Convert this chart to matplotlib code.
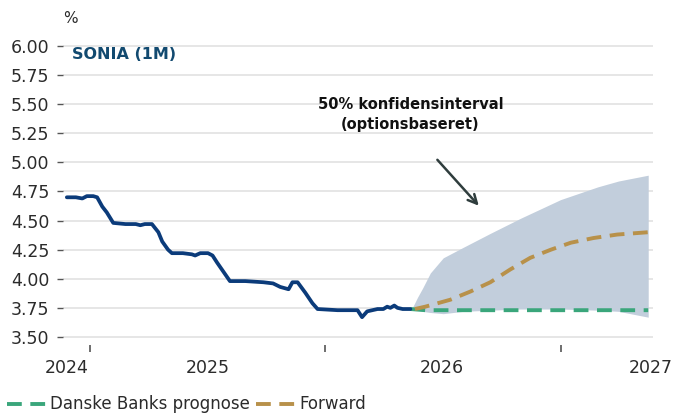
import numpy as np
import pandas as pd
import matplotlib
matplotlib.use("Agg")
import matplotlib.pyplot as plt

# SONIA (1M), historical
sonia_dates = ["2024-11-26", "2024-12-10", "2024-12-20", "2024-12-27", "2025-01-06",
               "2025-01-12", "2025-01-20", "2025-01-27", "2025-02-06", "2025-02-25",
               "2025-03-13", "2025-03-20", "2025-03-27", "2025-04-07", "2025-04-17",
               "2025-04-23", "2025-05-02", "2025-05-08", "2025-05-25", "2025-06-08",
               "2025-06-13", "2025-06-21", "2025-07-03", "2025-07-10", "2025-07-17",
               "2025-07-27", "2025-08-06", "2025-08-30", "2025-09-27", "2025-10-12",
               "2025-10-23", "2025-11-05", "2025-11-11", "2025-11-19", "2025-12-01",
               "2025-12-12", "2025-12-20", "2026-01-20", "2026-02-20", "2026-02-27",
               "2026-03-07", "2026-03-23", "2026-04-01", "2026-04-07", "2026-04-12",
               "2026-04-18", "2026-04-23", "2026-05-01", "2026-05-13"]
sonia_vals = [4.70, 4.70, 4.69, 4.71, 4.71,
              4.70, 4.62, 4.57, 4.48, 4.47,
              4.47, 4.46, 4.47, 4.47, 4.40,
              4.32, 4.25, 4.22, 4.22, 4.21,
              4.20, 4.22, 4.22, 4.20, 4.14,
              4.06, 3.98, 3.98, 3.97, 3.96,
              3.93, 3.91, 3.97, 3.97, 3.88,
              3.79, 3.74, 3.73, 3.73, 3.67,
              3.72, 3.74, 3.74, 3.76, 3.75,
              3.77, 3.75, 3.74, 3.74]

# Danske Banks prognose
prog_dates = ["2026-05-13", "2026-06-05", "2027-05-17"]
prog_vals = [3.74, 3.73, 3.73]

# Forward
fwd_dates = ["2026-05-20", "2026-06-05", "2026-07-14", "2026-08-14", "2026-09-14",
             "2026-10-15", "2026-11-15", "2026-12-17", "2027-01-17", "2027-02-21",
             "2027-03-30", "2027-05-17"]
fwd_vals = [3.74, 3.76, 3.82, 3.89, 3.97, 4.08, 4.18, 4.25, 4.31, 4.35, 4.38, 4.40]

# 50% konfidensinterval
band_dates = ["2026-05-16", "2026-05-24", "2026-06-01", "2026-06-13", "2026-07-03",
              "2026-08-03", "2026-09-14", "2026-10-31", "2027-01-01", "2027-02-28",
              "2027-04-01", "2027-05-17"]
band_low = [3.75, 3.73, 3.72, 3.71, 3.70, 3.72, 3.73, 3.74, 3.74, 3.73, 3.72, 3.67]
band_high = [3.75, 3.84, 3.92, 4.05, 4.18, 4.27, 4.39, 4.52, 4.68, 4.79, 4.84, 4.89]

year_ticks = ["2025-01-01", "2026-01-01", "2027-01-01"]
year_label_pos = ["2024-11-25", "2025-07-02", "2026-06-30", "2027-05-21"]
year_labels = ["2024", "2025", "2026", "2027"]

navy = "#0b3b7a"
green = "#3aa67b"
gold = "#b8914a"
band_col = "#c2cedc"
grey_txt = "#2b2b2b"

fig = plt.figure(figsize=(6.75, 4.16), dpi=100)
ax = fig.add_axes([0.0933, 0.1707, 0.8737, 0.7243])

ax.fill_between(pd.to_datetime(band_dates), band_low, band_high, color=band_col, lw=0, zorder=1)
ax.plot(pd.to_datetime(sonia_dates), sonia_vals, color=navy, lw=2.7, zorder=4,
        solid_joinstyle="round", solid_capstyle="round")
ax.plot(pd.to_datetime(prog_dates), prog_vals, color=green, lw=2.8,
        linestyle=(0, (3.8, 2.2)), zorder=3, label="Danske Banks prognose")
ax.plot(pd.to_datetime(fwd_dates), fwd_vals, color=gold, lw=2.8,
        linestyle=(0, (3.8, 2.2)), zorder=3, label="Forward")

ax.set_ylim(3.431, 6.02)
ax.set_xlim(pd.Timestamp("2024-11-20"), pd.Timestamp("2027-05-24"))
ax.set_yticks(np.arange(3.5, 6.01, 0.25))
ax.set_yticklabels([f"{v:.2f}" for v in np.arange(3.5, 6.01, 0.25)])
ax.grid(axis="y", color="#e2e2e2", lw=1.2, zorder=0)
ax.set_axisbelow(True)
for s in ax.spines.values():
    s.set_visible(False)

ax.tick_params(axis="y", length=4, width=1, color="#555555", labelsize=12.5,
               labelcolor=grey_txt, pad=6)
ax.set_xticks(pd.to_datetime(year_ticks))
ax.set_xticklabels([])
ax.set_xticks(pd.to_datetime(year_label_pos), minor=True)
ax.set_xticklabels(year_labels, minor=True)
ax.tick_params(axis="x", which="major", length=5, width=1.2, color="#555555")
ax.tick_params(axis="x", which="minor", length=0, labelsize=12.5,
               labelcolor=grey_txt, pad=10)

ax.text(0.012, 1.085, "%", transform=ax.transAxes, fontsize=11, color=grey_txt,
        ha="center", va="center")
ax.text(0.015, 0.965, "SONIA (1M)", transform=ax.transAxes, fontsize=11.5,
        fontweight="bold", color="#124a70", ha="left", va="center")
ax.text(pd.Timestamp("2026-05-13"), 5.41, "50% konfidensinterval\n(optionsbaseret)",
        fontsize=10.5, fontweight="bold", color="#111111", ha="center", va="center",
        linespacing=1.4)
ax.annotate("", xy=(pd.Timestamp("2026-08-30"), 4.61),
            xytext=(pd.Timestamp("2026-06-21"), 5.04),
            arrowprops=dict(arrowstyle="->", color="#2f3d3d", lw=1.8,
                            mutation_scale=16))

fig.legend(loc="lower left", bbox_to_anchor=(-0.012, -0.03), ncol=2, frameon=False,
           fontsize=12, handlelength=2.4, handletextpad=0.2, columnspacing=0.35,
           labelcolor=grey_txt)

fig.savefig("out.png", dpi=100)
